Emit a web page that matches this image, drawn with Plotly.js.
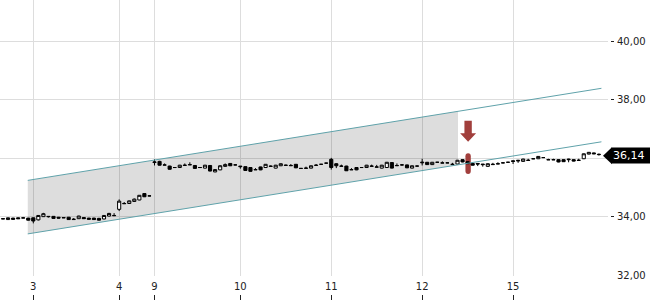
<!DOCTYPE html>
<html>
<head>
<meta charset="utf-8">
<script src="https://cdn.plot.ly/plotly-3.0.1.min.js"></script>
<style>html,body{margin:0;padding:0;background:#fff;}#chart{width:650px;height:300px;}</style>
</head>
<body>
<div id="chart"></div>
<script>
// Trading sessions (day of month) and number of bars in each
const sessionDays = ['2', '3', '4', '9', '10', '11', '12', '15'];
const barsPerSession = [6, 17, 7, 17, 18, 18, 18, 18];

const open = [33.93,33.91,33.96,33.97,33.96,33.96,33.97,33.90,34.01,34.02,34.02,33.99,33.98,33.99,33.91,33.94,33.98,33.96,33.96,33.95,33.93,34.03,34.04,
  34.26,34.45,34.46,34.53,34.58,34.80,34.72,
  35.86,35.90,35.77,35.74,35.69,35.69,35.76,35.78,35.76,35.69,35.67,35.76,35.54,35.61,35.73,35.83,35.78,
  35.74,35.72,35.69,35.61,35.71,35.69,35.74,35.67,35.75,35.76,35.75,35.80,35.66,35.66,35.67,35.76,35.80,35.84,
  35.97,35.82,35.73,35.74,35.61,35.69,35.69,35.69,35.73,35.70,35.67,35.69,35.86,35.75,35.78,35.78,35.67,35.74,
  35.85,35.87,35.79,35.87,35.84,35.85,35.79,35.81,35.96,35.89,35.83,35.83,35.81,35.73,35.79,35.81,35.85,35.87,
  35.92,35.94,35.90,35.93,35.99,35.99,36.03,35.95,35.95,35.96,35.96,35.98,35.96,35.93,35.99,36.15,36.19,36.13];
const high = [33.96,33.98,33.97,33.98,34.00,33.97,33.98,34.06,34.14,34.02,34.03,34.00,33.99,34.00,33.96,34.04,33.98,33.97,33.97,33.97,34.06,34.14,34.13,
  34.60,34.51,34.56,34.63,34.75,34.81,34.73,
  35.97,35.92,35.83,35.75,35.70,35.78,35.83,35.87,35.77,35.70,35.78,35.77,35.63,35.77,35.83,35.84,35.79,
  35.74,35.73,35.70,35.67,35.72,35.81,35.76,35.78,35.83,35.79,35.81,35.81,35.67,35.72,35.76,35.81,35.81,35.85,
  36.02,35.84,35.79,35.75,35.67,35.70,35.70,35.78,35.79,35.78,35.78,35.88,35.87,35.83,35.81,35.79,35.76,35.75,
  35.99,35.88,35.88,35.88,35.90,35.86,35.85,35.95,35.97,35.90,35.84,35.83,35.81,35.83,35.85,35.87,35.86,35.88,
  35.93,35.95,35.99,35.99,36.00,36.08,36.04,35.99,35.99,35.97,35.97,35.99,35.97,35.99,36.17,36.22,36.20,36.17];
const low = [33.93,33.90,33.91,33.93,33.96,33.88,33.78,33.88,34.00,33.98,33.94,33.95,33.97,33.90,33.91,33.93,33.93,33.91,33.90,33.88,33.92,34.02,34.04,
  34.20,34.45,34.45,34.52,34.57,34.68,34.71,
  35.76,35.76,35.77,35.62,35.68,35.69,35.76,35.78,35.65,35.68,35.66,35.56,35.53,35.60,35.72,35.74,35.77,
  35.65,35.58,35.55,35.61,35.60,35.68,35.72,35.66,35.74,35.76,35.75,35.67,35.65,35.66,35.66,35.76,35.79,35.83,
  35.62,35.67,35.73,35.57,35.61,35.60,35.68,35.68,35.73,35.70,35.66,35.68,35.66,35.75,35.76,35.67,35.66,35.73,
  35.76,35.78,35.78,35.86,35.84,35.84,35.79,35.80,35.87,35.81,35.76,35.74,35.72,35.72,35.79,35.81,35.84,35.86,
  35.81,35.85,35.89,35.93,35.98,35.98,36.02,35.95,35.95,35.87,35.88,35.87,35.90,35.93,35.98,36.14,36.15,36.10];
const close = [33.94,33.97,33.92,33.94,33.97,33.89,33.86,34.05,34.11,34.01,33.95,33.96,33.97,33.91,33.92,34.03,33.94,33.92,33.91,33.89,34.05,34.12,34.05,
  34.54,34.46,34.55,34.61,34.74,34.69,34.72,
  35.88,35.77,35.78,35.63,35.69,35.77,35.77,35.79,35.66,35.69,35.77,35.57,35.62,35.75,35.79,35.75,35.78,
  35.72,35.59,35.56,35.62,35.61,35.80,35.73,35.77,35.82,35.77,35.76,35.68,35.66,35.67,35.75,35.77,35.80,35.84,
  35.69,35.75,35.74,35.58,35.62,35.61,35.69,35.77,35.74,35.71,35.77,35.87,35.67,35.76,35.78,35.68,35.75,35.74,
  35.87,35.79,35.87,35.87,35.85,35.85,35.80,35.94,35.88,35.82,35.77,35.81,35.79,35.82,35.80,35.82,35.85,35.87,
  35.90,35.92,35.98,35.94,35.99,36.07,36.03,35.96,35.96,35.88,35.89,35.96,35.91,35.94,36.16,36.21,36.16,36.14];

// Trend channel (bar index, price)
const channelX = [4.9, 118.5];
const channelUpper = [35.25, 38.40];
const channelLower = [33.42, 36.57];
const channelShadeEndX = 90.1;

// Sell signal
const signalX = 92.1;

const yTicks = [32, 34, 36, 38, 40];

// ---- derived ----
const xIdx = open.map((_, i) => i);
const tickVals = [], tickText = [];
let start = 0;
sessionDays.forEach((d, k) => {
  if (k > 0) { tickVals.push(start); tickText.push(d); }
  start += barsPerSession[k];
});

const xRange = [-0.594, 119.8];
const yRange = [31.98, 41.42];
const fmt = v => v.toFixed(2).replace('.', ',');
const lerp = (xs, ys, x) => ys[0] + (ys[1] - ys[0]) * (x - xs[0]) / (xs[1] - xs[0]);

const last = close[close.length - 1];
// the price tag covers the tick label nearest to the last price
const yTickText = yTicks.map(v => Math.abs(v - last) < 0.35 ? '' : fmt(v));

const traces = [
  {
    type: 'candlestick', x: xIdx, open: open, high: high, low: low, close: close,
    increasing: {line: {color: '#000', width: 1}, fillcolor: '#fff'},
    decreasing: {line: {color: '#000', width: 1}, fillcolor: '#000'},
    whiskerwidth: 0, hoverinfo: 'skip', showlegend: false
  },
  {type: 'scatter', mode: 'lines', x: channelX, y: channelUpper, line: {color: '#5fa2aa', width: 1}, hoverinfo: 'skip', showlegend: false},
  {type: 'scatter', mode: 'lines', x: channelX, y: channelLower, line: {color: '#5fa2aa', width: 1}, hoverinfo: 'skip', showlegend: false},
  {type: 'scatter', mode: 'markers', x: [tickVals[0]], y: [36], xaxis: 'x2', yaxis: 'y2', marker: {opacity: 0}, hoverinfo: 'skip', showlegend: false}
];

const upE = lerp(channelX, channelUpper, channelShadeEndX);
const loE = lerp(channelX, channelLower, channelShadeEndX);

const shapes = [
  {type: 'path', layer: 'between', xref: 'x', yref: 'y',
   path: `M ${channelX[0]} ${channelLower[0]} L ${channelX[0]} ${channelUpper[0]} L ${channelShadeEndX} ${upE} L ${channelShadeEndX} ${loE} Z`,
   fillcolor: 'rgba(0,0,0,0.135)', line: {width: 0}},
  // down arrow
  {type: 'path', layer: 'above', xref: 'x', yref: 'y',
   path: `M ${signalX - 0.73} 37.29 L ${signalX + 0.73} 37.29 L ${signalX + 0.73} 36.86 L ${signalX + 1.58} 36.86 L ${signalX} 36.57 L ${signalX - 1.58} 36.86 L ${signalX - 0.73} 36.86 Z`,
   fillcolor: '#a13f3c', line: {width: 0}},
  // vertical bar
  {type: 'path', layer: 'between', xref: 'x', yref: 'y',
   path: `M ${signalX - 0.53} 36.08 Q ${signalX - 0.53} 36.18 ${signalX} 36.18 Q ${signalX + 0.53} 36.18 ${signalX + 0.53} 36.08 L ${signalX + 0.53} 35.57 Q ${signalX + 0.53} 35.47 ${signalX} 35.47 Q ${signalX - 0.53} 35.47 ${signalX - 0.53} 35.57 Z`,
   fillcolor: '#a13f3c', line: {width: 0}},
  // pointer of last price label
  {type: 'path', layer: 'above', xref: 'paper', yref: 'y',
   path: `M ${603/614} ${last - 0.05} L ${612/614} ${last + 0.24} L ${612/614} ${last - 0.34} Z`,
   fillcolor: '#000', line: {width: 0}}
];

const layout = {
  width: 650, height: 300,
  margin: {l: 0, r: 36, t: 0, b: 0, pad: 0},
  paper_bgcolor: '#fff', plot_bgcolor: '#fff',
  showlegend: false,
  separators: ',.',
  boxgap: 0.38, boxgroupgap: 0,
  font: {family: 'DejaVu Sans', size: 10, color: '#222'},
  xaxis: {
    domain: [0, 608/614], range: xRange, anchor: 'y',
    tickvals: tickVals, ticktext: tickText, ticks: '', ticklabelstandoff: 3,
    showgrid: true, gridcolor: '#dddddd', gridwidth: 1,
    zeroline: false, showline: false, rangeslider: {visible: false},
    tickfont: {family: 'DejaVu Sans', size: 10, color: '#222'}
  },
  xaxis2: {
    overlaying: 'x', anchor: 'free', position: 0, range: xRange,
    tickvals: tickVals, ticks: 'inside', ticklen: 5, tickwidth: 1, tickcolor: '#222',
    showticklabels: false, showgrid: false, zeroline: false, showline: false
  },
  yaxis: {
    domain: [24/300, 1], range: yRange, anchor: 'x',
    tickvals: yTicks, showticklabels: false, ticks: '',
    showgrid: true, gridcolor: '#dddddd', gridwidth: 1, zeroline: false, showline: false
  },
  yaxis2: {
    overlaying: 'y', anchor: 'free', position: 1, side: 'right', range: yRange,
    tickvals: yTicks, ticktext: yTickText, ticks: 'inside', ticklen: 3, tickwidth: 1, tickcolor: '#222',
    ticklabelstandoff: 2,
    showgrid: false, zeroline: false, showline: false,
    tickfont: {family: 'DejaVu Sans', size: 10, color: '#222'}
  },
  shapes: shapes,
  annotations: [{
    xref: 'paper', yref: 'y', x: 611/614, y: last, yshift: -1.5,
    xanchor: 'left', yanchor: 'middle', align: 'left',
    text: fmt(last), showarrow: false, bgcolor: '#000', borderpad: 1, width: 40,
    font: {family: 'DejaVu Sans', size: 11, color: '#fff'}
  }]
};

Plotly.newPlot('chart', traces, layout, {displayModeBar: false, staticPlot: true});
</script>
</body>
</html>
